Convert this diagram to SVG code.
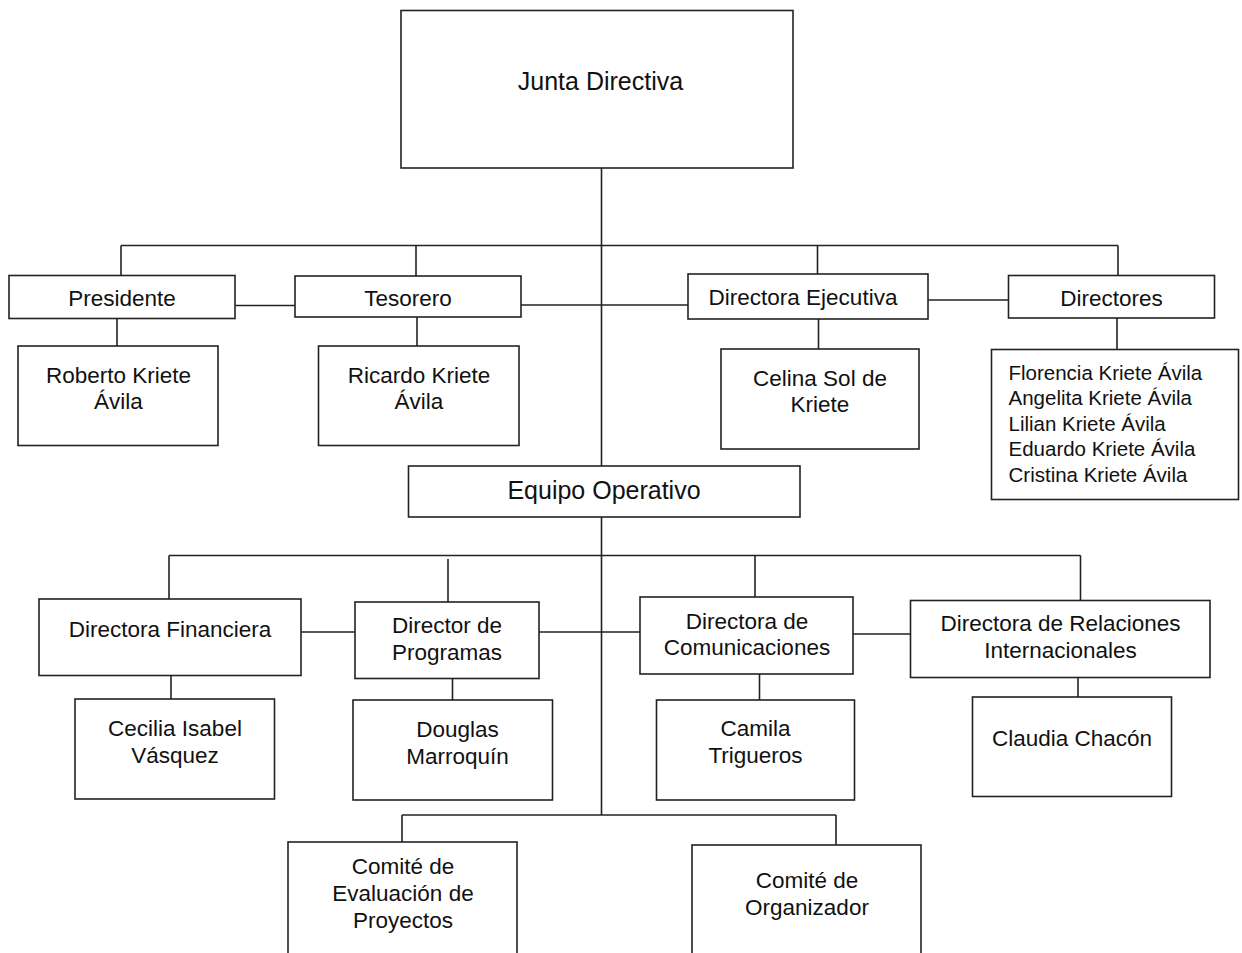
<svg xmlns="http://www.w3.org/2000/svg" width="1242" height="953" viewBox="0 0 1242 953">
<style>
rect{fill:#fff;stroke:#222;stroke-width:1.6}
#connectors line{stroke:#222;stroke-width:1.6}
text{font-family:"Liberation Sans",Arial,sans-serif;font-size:22.5px;fill:#111;text-anchor:middle}
.big{font-size:25px}
.list{font-size:20.5px;text-anchor:start}
</style>
<rect x="0" y="0" width="1242" height="953" style="stroke:none"/>
<g id="connectors">
<line x1="601.5" y1="168" x2="601.5" y2="815"/>
<line x1="121" y1="245.5" x2="1118" y2="245.5"/>
<line x1="121" y1="245.5" x2="121" y2="275"/>
<line x1="416" y1="245.5" x2="416" y2="276"/>
<line x1="817.5" y1="245.5" x2="817.5" y2="274"/>
<line x1="1118" y1="245.5" x2="1118" y2="276"/>
<line x1="235" y1="305.5" x2="295" y2="305.5"/>
<line x1="521" y1="305" x2="688" y2="305"/>
<line x1="928" y1="300" x2="1008" y2="300"/>
<line x1="117" y1="318" x2="117" y2="346"/>
<line x1="417" y1="317" x2="417" y2="346"/>
<line x1="818.5" y1="319" x2="818.5" y2="349"/>
<line x1="1117" y1="318" x2="1117" y2="349"/>
<line x1="169" y1="555.5" x2="1080.5" y2="555.5"/>
<line x1="169" y1="555.5" x2="169" y2="599"/>
<line x1="448" y1="559" x2="448" y2="602"/>
<line x1="755" y1="555.5" x2="755" y2="597"/>
<line x1="1080.5" y1="555.5" x2="1080.5" y2="601"/>
<line x1="301" y1="632" x2="355" y2="632"/>
<line x1="539" y1="632" x2="640" y2="632"/>
<line x1="853" y1="634" x2="910" y2="634"/>
<line x1="171" y1="676" x2="171" y2="699"/>
<line x1="452.5" y1="678" x2="452.5" y2="700"/>
<line x1="759.5" y1="674" x2="759.5" y2="700"/>
<line x1="1078" y1="677" x2="1078" y2="697"/>
<line x1="402" y1="815" x2="836" y2="815"/>
<line x1="402" y1="815" x2="402" y2="842"/>
<line x1="836" y1="815" x2="836" y2="845"/>
</g>
<g id="junta"><rect x="401" y="10.5" width="392" height="157.5"/><text class="big" x="600.5" y="90">Junta Directiva</text></g>
<g id="presidente"><rect x="9" y="275.5" width="226" height="43"/><text x="122" y="306">Presidente</text></g>
<g id="tesorero"><rect x="295" y="276" width="226" height="41"/><text x="408" y="306">Tesorero</text></g>
<g id="directora-ejecutiva"><rect x="688" y="274" width="240" height="45"/><text x="803" y="305">Directora Ejecutiva</text></g>
<g id="directores"><rect x="1008.5" y="275.5" width="206" height="42.5"/><text x="1111.5" y="306">Directores</text></g>
<g id="roberto"><rect x="18" y="346" width="200" height="99.5"/><text x="118.5" y="383">Roberto Kriete</text><text x="118.5" y="409">Ávila</text></g>
<g id="ricardo"><rect x="318.5" y="346" width="200.5" height="99.5"/><text x="419" y="383">Ricardo Kriete</text><text x="419" y="409">Ávila</text></g>
<g id="celina"><rect x="721" y="349" width="198" height="100"/><text x="820" y="385.5">Celina Sol de</text><text x="820" y="412">Kriete</text></g>
<g id="directores-lista"><rect x="991.5" y="349.5" width="247" height="150"/>
<text class="list" x="1008.5" y="379.5">Florencia Kriete Ávila</text>
<text class="list" x="1008.5" y="405">Angelita Kriete Ávila</text>
<text class="list" x="1008.5" y="430.5">Lilian Kriete Ávila</text>
<text class="list" x="1008.5" y="456">Eduardo Kriete Ávila</text>
<text class="list" x="1008.5" y="481.5">Cristina Kriete Ávila</text></g>
<g id="equipo-operativo"><rect x="408.5" y="466" width="391.5" height="51"/><text class="big" x="604" y="498.5">Equipo Operativo</text></g>
<g id="directora-financiera"><rect x="39" y="599" width="262" height="76.5"/><text x="170" y="637">Directora Financiera</text></g>
<g id="director-programas"><rect x="355" y="602" width="184" height="76.5"/><text x="447" y="633">Director de</text><text x="447" y="659.5">Programas</text></g>
<g id="directora-comunicaciones"><rect x="640" y="597" width="213" height="77"/><text x="747" y="628.5">Directora de</text><text x="747" y="655">Comunicaciones</text></g>
<g id="directora-relaciones"><rect x="910.5" y="600.5" width="299.5" height="77"/><text x="1060.5" y="631">Directora de Relaciones</text><text x="1060.5" y="658">Internacionales</text></g>
<g id="cecilia"><rect x="75" y="699" width="199.5" height="100"/><text x="175" y="736">Cecilia Isabel</text><text x="175" y="763">Vásquez</text></g>
<g id="douglas"><rect x="353" y="700" width="199.5" height="100"/><text x="457.5" y="737">Douglas</text><text x="457.5" y="764">Marroquín</text></g>
<g id="camila"><rect x="656.5" y="700" width="198" height="100"/><text x="755.5" y="736">Camila</text><text x="755.5" y="763">Trigueros</text></g>
<g id="claudia"><rect x="972.5" y="697" width="199" height="99.5"/><text x="1072" y="746">Claudia Chacón</text></g>
<g id="comite-evaluacion"><rect x="288" y="842" width="229" height="120"/><text x="403" y="873.5">Comité de</text><text x="403" y="900.5">Evaluación de</text><text x="403" y="927.5">Proyectos</text></g>
<g id="comite-organizador"><rect x="692" y="845" width="229" height="120"/><text x="807" y="887.5">Comité de</text><text x="807" y="914.5">Organizador</text></g>
</svg>
